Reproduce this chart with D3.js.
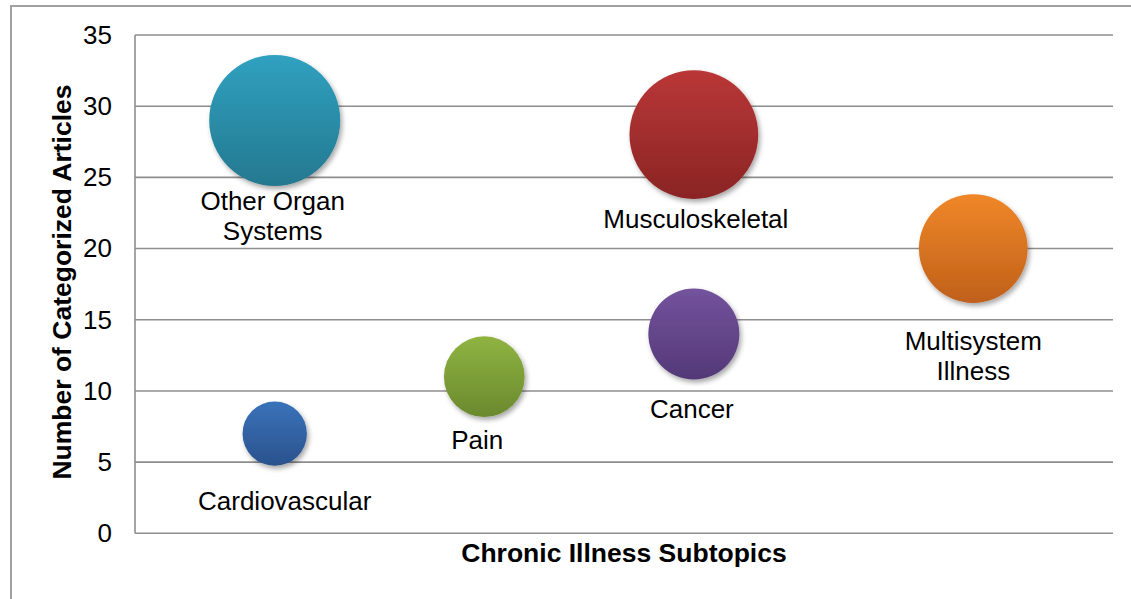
<!DOCTYPE html>
<html>
<head>
<meta charset="utf-8">
<script src="https://cdn.jsdelivr.net/npm/d3@7/dist/d3.min.js"></script>
<style>
  html, body { margin: 0; padding: 0; background: #fff; }
  svg { display: block; font-family: "Liberation Sans", Arial, sans-serif; }
</style>
</head>
<body>
<svg id="chart" width="1131" height="599"></svg>
<script>
// Chronic illness subtopics: position on a hidden x axis, article count (y), bubble size = article count
const categories = ["Cardiovascular", "Other Organ Systems", "Pain", "Cancer", "Musculoskeletal", "Multisystem Illness"];
const xValues = [3, 3, 6, 9, 9, 13];
const articleCounts = [7, 29, 11, 14, 28, 20];
const bubbleSizes = [7, 29, 11, 14, 28, 20];
const yTicks = [0, 5, 10, 15, 20, 25, 30, 35];

// Label text split into lines
const labelLines = [["Cardiovascular"], ["Other Organ", "Systems"], ["Pain"], ["Cancer"], ["Musculoskeletal"], ["Multisystem", "Illness"]];
// Label placement relative to each bubble centre (dx, baseline dy)
const labelNudge = [[10, 76], [-2, 90], [-7, 72], [-2, 84], [2, 93], [0, 101]];

// Gradient fills (top, bottom)
const palette = [
  ["#3a72ba", "#2a528c"],
  ["#30a1c0", "#24788f"],
  ["#8fb441", "#6a892e"],
  ["#73539d", "#543877"],
  ["#ba3737", "#8a2424"],
  ["#f08729", "#bf601a"]
];

const svg = d3.select("#chart");
const plot = { left: 135, right: 1113, top: 35, bottom: 533.3 };

const x = d3.scaleLinear().domain([1, 15]).range([plot.left, plot.right]);
const y = d3.scaleLinear().domain([0, 35]).range([plot.bottom, plot.top]);
const r = d3.scaleSqrt().domain([0, 29]).range([0, 65.5]);

const defs = svg.append("defs");
palette.forEach((c, i) => {
  const g = defs.append("linearGradient").attr("id", "grad" + i)
    .attr("x1", 0).attr("y1", 0).attr("x2", 0).attr("y2", 1);
  g.append("stop").attr("offset", "0%").attr("stop-color", c[0]);
  g.append("stop").attr("offset", "100%").attr("stop-color", c[1]);
});
const shadow = defs.append("filter").attr("id", "shadow")
  .attr("x", "-30%").attr("y", "-30%").attr("width", "160%").attr("height", "160%");
shadow.append("feDropShadow").attr("dx", 2).attr("dy", 3).attr("stdDeviation", 2.5)
  .attr("flood-color", "#000").attr("flood-opacity", 0.35);

// Outer chart border
svg.append("rect").attr("x", 11).attr("y", 6).attr("width", 1140).attr("height", 620)
  .attr("fill", "none").attr("stroke", "#a0a0a0").attr("stroke-width", 2);

// Horizontal gridlines
svg.append("g").selectAll("line").data(yTicks).join("line")
  .attr("x1", plot.left).attr("x2", plot.right)
  .attr("y1", d => y(d)).attr("y2", d => y(d))
  .attr("stroke", "#8e8e8e").attr("stroke-width", 1.6);

// Y axis line
svg.append("line").attr("x1", plot.left).attr("x2", plot.left)
  .attr("y1", plot.top).attr("y2", plot.bottom)
  .attr("stroke", "#8e8e8e").attr("stroke-width", 1.6);

// Y axis tick labels
const yAxis = d3.axisLeft(y).tickValues(yTicks).tickSize(0).tickPadding(0);
const yg = svg.append("g").attr("transform", `translate(112,0)`).call(yAxis);
yg.select(".domain").remove();
yg.selectAll("text").attr("font-size", 26).attr("fill", "#000")
  .attr("font-family", "'Liberation Sans', Arial, sans-serif");

// Axis titles
svg.append("text").attr("transform", "translate(71,282) rotate(-90)")
  .attr("text-anchor", "middle").attr("font-size", 26.5).attr("font-weight", "bold")
  .text("Number of Categorized Articles");
svg.append("text").attr("x", (plot.left + plot.right) / 2).attr("y", 562)
  .attr("text-anchor", "middle").attr("font-size", 26.5).attr("font-weight", "bold")
  .text("Chronic Illness Subtopics");

// Bubbles
const items = categories.map((c, i) => ({
  name: c, x: xValues[i], y: articleCounts[i], size: bubbleSizes[i],
  lines: labelLines[i], nudge: labelNudge[i], i
}));

svg.append("g").selectAll("circle").data(items).join("circle")
  .attr("cx", d => x(d.x)).attr("cy", d => y(d.y)).attr("r", d => r(d.size))
  .attr("fill", d => `url(#grad${d.i})`).attr("filter", "url(#shadow)");

// Data labels
const labels = svg.append("g").selectAll("text").data(items).join("text")
  .attr("text-anchor", "middle").attr("font-size", 26).attr("fill", "#000")
  .attr("transform", d => `translate(${x(d.x) + d.nudge[0]},${y(d.y) + d.nudge[1]})`);
labels.selectAll("tspan").data(d => d.lines).join("tspan")
  .attr("x", 0).attr("y", (d, k) => k * 30).text(d => d);
</script>
</body>
</html>
